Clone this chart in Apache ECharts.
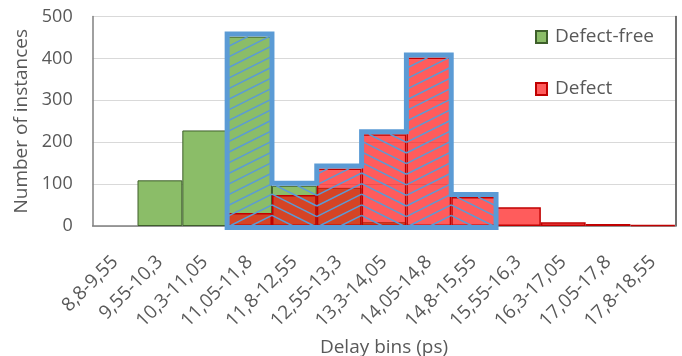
<!DOCTYPE html>
<html>
<head>
<meta charset="utf-8">
<script src="https://cdn.jsdelivr.net/npm/echarts@6/dist/echarts.min.js"></script>
<style>
html,body{margin:0;padding:0;background:#fff;}
#chart{width:682px;height:356px;}
</style>
</head>
<body>
<div id="chart"></div>
<script>
// ---- data ----
const categories = ['8,8-9,55','9,55-10,3','10,3-11,05','11,05-11,8','11,8-12,55','12,55-13,3','13,3-14,05','14,05-14,8','14,8-15,55','15,55-16,3','16,3-17,05','17,05-17,8','17,8-18,55'];
const greenVals = [0, 109, 228, 452, 96, 91, 9, 2, 0, 0, 0, 0, 0];
const redVals   = [0, 0, 0, 31, 74, 137, 219, 402, 69, 45, 9, 5, 2];
const yTicks = [0, 100, 200, 300, 400, 500];
const hatchFirst = 3, hatchLast = 8;   // highlighted bin range (indices)
// --------------------------------------

const FONT = 'Open Sans';
const TXT = '#595959';
const BLUE = '#5B9BD5';

const greenData = greenVals.map(v => v > 0 ? v : '-');
const redData = redVals.map(v => v > 0 ? v : '-');
const outlineVals = categories.map((c, i) => (i >= hatchFirst && i <= hatchLast) ? Math.max(greenVals[i], redVals[i]) : null);
const hatchData = [];
for (let i = hatchFirst; i <= hatchLast; i++) hatchData.push([i, outlineVals[i]]);

function clipSeg(x0, y0, x1, y1, yT, yB) {
  let t0 = 0, t1 = 1;
  const dy = y1 - y0;
  if (Math.abs(dy) < 1e-9) {
    if (y0 < yT || y0 > yB) return null;
  } else {
    let a = (yT - y0) / dy, b = (yB - y0) / dy;
    if (a > b) { const t = a; a = b; b = t; }
    t0 = Math.max(t0, a); t1 = Math.min(t1, b);
    if (t0 >= t1) return null;
  }
  return [x0 + (x1 - x0) * t0, y0 + dy * t0, x0 + (x1 - x0) * t1, y0 + dy * t1];
}

function renderHatch(params, api) {
  const i = api.value(0), v = api.value(1);
  const c0 = api.coord([i, 0]);
  const c1 = api.coord([i, v]);
  const w = api.size([1, 0])[0];
  const L = c0[0] - w / 2, R = c0[0] + w / 2;
  const yB = c0[1], yT = c1[1];
  const rising = ((i - hatchFirst) % 2 === 0);
  const s = 0.5, sp = 10.6;
  const children = [];
  const kMin = -Math.ceil(s * w / sp) - 1;
  const kMax = Math.ceil((yB - yT) / sp) + 2;
  for (let k = kMin; k <= kMax; k++) {
    const base = yB - k * sp;
    let yl, yr;
    if (rising) { yr = base; yl = base + s * w; }
    else { yl = base; yr = base + s * w; }
    const seg = clipSeg(L, yl, R, yr, yT, yB);
    if (!seg) continue;
    children.push({
      type: 'line',
      shape: { x1: seg[0], y1: seg[1], x2: seg[2], y2: seg[3] },
      style: { stroke: BLUE, lineWidth: 1.5 }
    });
  }
  return { type: 'group', children: children };
}

function renderOutline(params, api) {
  const w = api.size([1, 0])[0];
  const yBase = api.coord([hatchFirst, 0])[1] + 1.5;
  const pts = [];
  for (let i = hatchFirst; i <= hatchLast; i++) {
    const c = api.coord([i, outlineVals[i]]);
    const yT = c[1] - 2.5;
    pts.push([c[0] - w / 2, yT], [c[0] + w / 2, yT]);
  }
  pts.unshift([pts[0][0], yBase]);
  pts.push([pts[pts.length - 1][0], yBase]);
  return {
    type: 'polygon',
    shape: { points: pts },
    style: { fill: null, stroke: BLUE, lineWidth: 5, lineJoin: 'miter' },
    z2: 10
  };
}

const chart = echarts.init(document.getElementById('chart'), null, { renderer: 'canvas' });
chart.setOption({
  animation: false,
  backgroundColor: '#ffffff',
  textStyle: { fontFamily: FONT },
  grid: { left: 92.7, right: 6.7, top: 16.5, bottom: 130, containLabel: false, outerBoundsMode: 'none' },
  legend: {
    data: ['Defect-free', 'Defect'],
    orient: 'vertical',
    left: 535, top: 27,
    itemWidth: 11, itemHeight: 12,
    itemGap: 32,
    padding: 0,
    icon: 'rect',
    textStyle: { fontFamily: FONT, fontSize: 19, color: TXT, lineHeight: 20, padding: [0, 0, 0, 3] }
  },
  xAxis: [{
    type: 'category',
    data: categories,
    boundaryGap: true,
    axisLine: { show: true, lineStyle: { color: '#d0d0d0', width: 1 } },
    axisTick: { show: false },
    axisLabel: { interval: 0, rotate: 45, fontSize: 19, color: TXT, fontFamily: FONT, margin: 33 },
    name: 'Delay bins (ps)',
    nameLocation: 'middle',
    nameGap: 110,
    nameTextStyle: { fontSize: 19, color: TXT, fontFamily: FONT }
  }, {
    type: 'category',
    data: categories,
    position: 'top',
    axisLine: { show: true, lineStyle: { color: '#808080', width: 1.5 } },
    axisTick: { show: false },
    axisLabel: { show: false }
  }],
  yAxis: [{
    type: 'value',
    min: 0, max: 500, interval: 100,
    axisLine: { show: true, lineStyle: { color: '#808080', width: 1.5 } },
    axisTick: { show: false },
    axisLabel: { fontSize: 18, color: TXT, fontFamily: FONT, margin: 20,
      formatter: v => yTicks.indexOf(v) >= 0 ? String(v) : '' },
    splitLine: { lineStyle: { color: '#d9d9d9', width: 1 } },
    name: 'Number of instances',
    nameLocation: 'middle',
    nameGap: 62,
    nameTextStyle: { fontSize: 19, color: TXT, fontFamily: FONT }
  }, {
    type: 'value',
    min: 0, max: 500, interval: 100,
    position: 'right',
    axisLine: { show: true, lineStyle: { color: '#404040', width: 1.5 } },
    axisTick: { show: false },
    axisLabel: { show: false },
    splitLine: { show: false }
  }],
  series: [{
    name: 'Defect-free',
    type: 'bar',
    data: greenData,
    barWidth: '100%',
    barGap: '-100%',
    itemStyle: { color: '#8BBD68', borderColor: '#3E5F2B', borderWidth: 1 },
    z: 2
  }, {
    name: 'Defect',
    type: 'bar',
    data: redData,
    barWidth: '100%',
    barGap: '-100%',
    itemStyle: { color: 'rgba(255,0,0,0.64)', borderColor: '#C00000', borderWidth: 1.5 },
    z: 3
  }, {
    type: 'custom',
    renderItem: renderHatch,
    data: hatchData,
    z: 4,
    silent: true
  }, {
    type: 'custom',
    renderItem: renderOutline,
    data: [[hatchFirst, outlineVals[hatchFirst]]],
    z: 5,
    silent: true
  }]
});
</script>
</body>
</html>
